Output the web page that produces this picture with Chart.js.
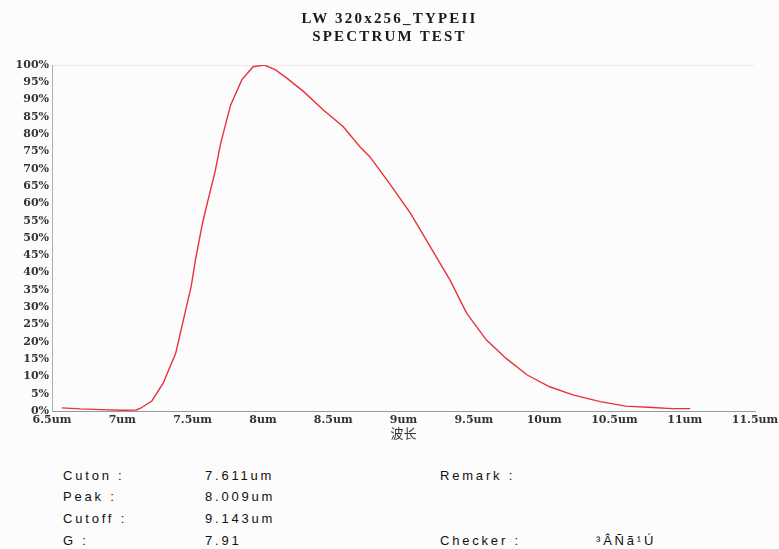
<!DOCTYPE html>
<html>
<head>
<meta charset="utf-8">
<script src="https://cdn.jsdelivr.net/npm/chart.js@4"></script>
<style>
    html, body { margin: 0; padding: 0; background: #fcfcfc; }
    #wrap { position: relative; width: 779px; height: 549px; overflow: hidden; }
    #chart { position: absolute; left: 0; top: 0; }
    .title {
        position: absolute; left: 0; width: 779px; text-align: center;
        font-family: "Liberation Serif", serif; font-size: 15px; font-weight: bold; color: #1a1a1a;
        letter-spacing: 2.2px; line-height: 18px;
    }
    .info {
        position: absolute; font-family: "Liberation Sans", Arial, sans-serif;
        font-size: 13px; letter-spacing: 2.8px; color: #111; line-height: 14px;
    }
</style>
</head>
<body>
<div id="wrap">
    <canvas id="chart" width="779" height="450"></canvas>
    <div class="title" style="top:9px">LW 320x256_TYPEII</div>
    <div class="title" style="top:27px">SPECTRUM TEST</div>
</div>
<script>
// ========================================
// DATA
// ========================================
const wavelength = [6.57, 6.70, 6.85, 7.00, 7.10, 7.13, 7.21, 7.29, 7.38, 7.44, 7.49, 7.52, 7.57, 7.61,
    7.66, 7.70, 7.77, 7.85, 7.93, 8.01, 8.09, 8.17, 8.29, 8.43, 8.57, 8.69, 8.76, 8.90, 9.05, 9.19,
    9.33, 9.45, 9.59, 9.73, 9.88, 10.04, 10.21, 10.40, 10.58, 10.77, 10.91, 11.04];
const response = [0.9, 0.6, 0.4, 0.2, 0.3, 0.8, 2.9, 8.0, 16.7, 27.3, 36.0, 43.6, 54.2, 61.0,
    69.2, 77.4, 88.4, 95.7, 99.5, 100, 98.6, 96.2, 92.3, 87.0, 82.2, 76.4, 73.5, 65.8, 57.1, 47.5,
    37.9, 28.2, 20.5, 15.2, 10.4, 7.0, 4.6, 2.7, 1.4, 1.0, 0.7, 0.7];

const xTickLabels = ['6.5um', '7um', '7.5um', '8um', '8.5um', '9um', '9.5um', '10um', '10.5um', '11um', '11.5um'];
const xAxisTitle = '波长';

const infoRows = [
    ['Cuton :', '7.611um', 'Remark :', ''],
    ['Peak :', '8.009um', '', ''],
    ['Cutoff :', '9.143um', '', ''],
    ['G :', '7.91', 'Checker :', '³ÂÑã¹Ú']
];

// ========================================
// INFO TEXT BELOW THE CHART
// ========================================
const wrap = document.getElementById('wrap');
const colX = [63, 205, 440, 596];
const rowY = [469, 490, 512, 534];
infoRows.forEach((row, r) => {
    row.forEach((txt, c) => {
        if (!txt) return;
        const d = document.createElement('div');
        d.className = 'info';
        d.style.left = colX[c] + 'px';
        d.style.top = rowY[r] + 'px';
        d.textContent = txt;
        wrap.appendChild(d);
    });
});

// ========================================
// CHART
// ========================================
const tickFont = { family: '"DejaVu Serif", serif', size: 11, weight: 'bold' };

new Chart(document.getElementById('chart'), {
    type: 'line',
    data: {
        datasets: [{
            data: wavelength.map((w, i) => ({ x: w, y: response[i] })),
            borderColor: '#e8323c',
            borderWidth: 1.4,
            pointRadius: 0,
            tension: 0,
            fill: false
        }]
    },
    options: {
        responsive: false,
        animation: false,
        layout: { padding: { top: 65, right: 24, bottom: 9, left: 0 } },
        plugins: {
            legend: { display: false },
            tooltip: { enabled: false }
        },
        scales: {
            x: {
                type: 'linear',
                min: 6.5,
                max: 11.5,
                afterFit: s => { s.height = 30; s.paddingLeft = 0; s.paddingRight = 0; },
                ticks: {
                    stepSize: 0.5,
                    autoSkip: false,
                    maxRotation: 0,
                    padding: 3,
                    color: '#333',
                    font: tickFont,
                    callback: v => xTickLabels[Math.round((v - 6.5) / 0.5)]
                },
                grid: { display: false, drawTicks: false },
                border: { display: true, color: '#9a9a9a', dash: [1, 2] },
                title: {
                    display: true,
                    text: xAxisTitle,
                    color: '#333',
                    padding: 0,
                    font: { family: '"Noto Sans CJK SC", sans-serif', size: 13 }
                }
            },
            y: {
                min: 0,
                max: 100,
                afterFit: s => { s.width = 52; },
                ticks: {
                    stepSize: 5,
                    padding: 3,
                    color: '#333',
                    font: tickFont,
                    callback: v => v + '%'
                },
                grid: {
                    drawTicks: false,
                    color: ctx => ctx.tick && ctx.tick.value === 100 ? '#d6d6d6' : 'rgba(0,0,0,0)'
                },
                border: { display: true, color: '#b0b0b0', dash: [1, 1] }
            }
        }
    }
});
</script>
</body>
</html>
